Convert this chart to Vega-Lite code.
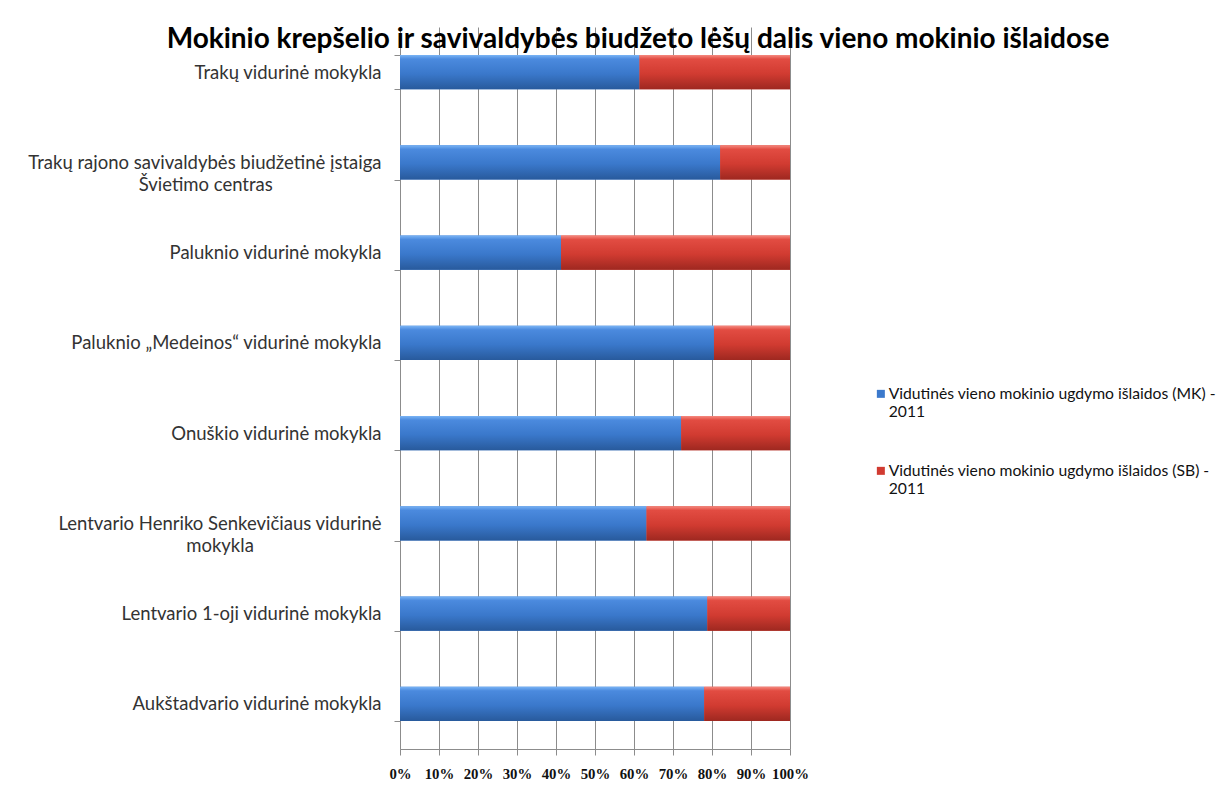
{
  "$schema": "https://vega.github.io/schema/vega-lite/v6.json",
  "autosize": {"type": "none"},
  "width": 390,
  "height": 722,
  "padding": {"left": 400, "top": 27, "right": 432, "bottom": 49},
  "background": "white",
  "title": {
    "text": "Mokinio krepšelio ir savivaldybės biudžeto lėšų dalis vieno mokinio išlaidose",
    "font": "Lato",
    "fontSize": 28,
    "fontWeight": "bold",
    "color": "#000000",
    "anchor": "middle",
    "orient": "top",
    "baseline": "alphabetic",
    "offset": -20,
    "dy": 38,
    "dx": 43
  },
  "config": {"view": {"stroke": null}, "font": "Lato"},
  "datasets": {
    "bars": [
      {"school": "Trakų vidurinė mokykla", "series": "Vidutinės vieno mokinio ugdymo išlaidos (MK) - 2011", "share": 61.4},
      {"school": "Trakų vidurinė mokykla", "series": "Vidutinės vieno mokinio ugdymo išlaidos (SB) - 2011", "share": 38.6},
      {"school": "Trakų rajono savivaldybės biudžetinė įstaiga Švietimo centras", "series": "Vidutinės vieno mokinio ugdymo išlaidos (MK) - 2011", "share": 82.1},
      {"school": "Trakų rajono savivaldybės biudžetinė įstaiga Švietimo centras", "series": "Vidutinės vieno mokinio ugdymo išlaidos (SB) - 2011", "share": 17.9},
      {"school": "Paluknio vidurinė mokykla", "series": "Vidutinės vieno mokinio ugdymo išlaidos (MK) - 2011", "share": 41.3},
      {"school": "Paluknio vidurinė mokykla", "series": "Vidutinės vieno mokinio ugdymo išlaidos (SB) - 2011", "share": 58.7},
      {"school": "Paluknio „Medeinos“ vidurinė mokykla", "series": "Vidutinės vieno mokinio ugdymo išlaidos (MK) - 2011", "share": 80.5},
      {"school": "Paluknio „Medeinos“ vidurinė mokykla", "series": "Vidutinės vieno mokinio ugdymo išlaidos (SB) - 2011", "share": 19.5},
      {"school": "Onuškio vidurinė mokykla", "series": "Vidutinės vieno mokinio ugdymo išlaidos (MK) - 2011", "share": 72.1},
      {"school": "Onuškio vidurinė mokykla", "series": "Vidutinės vieno mokinio ugdymo išlaidos (SB) - 2011", "share": 27.9},
      {"school": "Lentvario Henriko Senkevičiaus vidurinė mokykla", "series": "Vidutinės vieno mokinio ugdymo išlaidos (MK) - 2011", "share": 63.2},
      {"school": "Lentvario Henriko Senkevičiaus vidurinė mokykla", "series": "Vidutinės vieno mokinio ugdymo išlaidos (SB) - 2011", "share": 36.8},
      {"school": "Lentvario 1-oji vidurinė mokykla", "series": "Vidutinės vieno mokinio ugdymo išlaidos (MK) - 2011", "share": 78.8},
      {"school": "Lentvario 1-oji vidurinė mokykla", "series": "Vidutinės vieno mokinio ugdymo išlaidos (SB) - 2011", "share": 21.2},
      {"school": "Aukštadvario vidurinė mokykla", "series": "Vidutinės vieno mokinio ugdymo išlaidos (MK) - 2011", "share": 78.0},
      {"school": "Aukštadvario vidurinė mokykla", "series": "Vidutinės vieno mokinio ugdymo išlaidos (SB) - 2011", "share": 22.0}
    ]
  },
  "encoding": {
    "y": {
      "field": "school",
      "type": "nominal",
      "sort": null,
      "scale": {
        "domain": [
          "Trakų vidurinė mokykla",
          "Trakų rajono savivaldybės biudžetinė įstaiga Švietimo centras",
          "Paluknio vidurinė mokykla",
          "Paluknio „Medeinos“ vidurinė mokykla",
          "Onuškio vidurinė mokykla",
          "Lentvario Henriko Senkevičiaus vidurinė mokykla",
          "Lentvario 1-oji vidurinė mokykla",
          "Aukštadvario vidurinė mokykla"
        ],
        "paddingInner": 0.62,
        "paddingOuter": 0.31
      },
      "axis": {
        "title": null,
        "tickBand": "extent",
        "domainColor": "#8c8c8c",
        "tickColor": "#8c8c8c",
        "tickSize": 6,
        "labelFont": "Lato",
        "labelFontSize": 18.5,
        "labelColor": "#333333",
        "labelPadding": 13,
        "labelLimit": 0,
        "labelLineHeight": 22,
        "labelExpr": "datum.value == 'Trakų rajono savivaldybės biudžetinė įstaiga Švietimo centras' ? ['Trakų rajono savivaldybės biudžetinė įstaiga', 'Švietimo centras\u00a0\u00a0\u00a0\u00a0\u00a0\u00a0\u00a0\u00a0\u00a0\u00a0\u00a0\u00a0\u00a0\u00a0\u00a0\u00a0\u00a0\u00a0\u00a0\u00a0\u2800'] : datum.value == 'Lentvario Henriko Senkevičiaus vidurinė mokykla' ? ['Lentvario Henriko Senkevičiaus vidurinė', 'mokykla\u00a0\u00a0\u00a0\u00a0\u00a0\u00a0\u00a0\u00a0\u00a0\u00a0\u00a0\u00a0\u00a0\u00a0\u00a0\u00a0\u00a0\u00a0\u00a0\u00a0\u00a0\u00a0\u00a0\u00a0\u2800'] : datum.label"
      }
    },
    "x": {
      "field": "share",
      "type": "quantitative",
      "stack": "zero",
      "scale": {"domain": [0, 100], "nice": false},
      "axis": {
        "title": null,
        "values": [0, 10, 20, 30, 40, 50, 60, 70, 80, 90, 100],
        "labelExpr": "datum.value + '%'",
        "labelOverlap": false,
        "labelFlush": false,
        "grid": true,
        "gridColor": "#8c8c8c",
        "domainColor": "#8c8c8c",
        "tickColor": "#8c8c8c",
        "tickSize": 6,
        "labelFont": "Liberation Serif",
        "labelFontSize": 14.8,
        "labelFontWeight": "bold",
        "labelColor": "#111111",
        "labelPadding": 11
      }
    }
  },
  "layer": [
    {
      "data": {"name": "bars"},
      "mark": {"type": "bar"},
      "encoding": {
        "color": {
          "field": "series",
          "type": "nominal",
          "scale": {"range": ["#3b79cc", "#d13b31"]},
          "legend": {
            "title": null,
            "orient": "none",
            "legendX": 473,
            "legendY": 364,
            "direction": "vertical",
            "labelFont": "Lato",
            "labelFontSize": 15.7,
            "labelColor": "#111111",
            "labelLimit": 400,
            "labelOffset": 0,
            "labelBaseline": "alphabetic",
            "rowPadding": 42,
            "symbolType": "M-1,-2.25H1V-0.25H-1Z",
            "symbolSize": 64,
            "symbolStrokeWidth": 0,
            "labelExpr": "[replace(datum.label, ' 2011', ''), '2011']"
          }
        }
      }
    },
    {
      "data": {"name": "bars"},
      "mark": {"type": "bar"},
      "encoding": {
        "detail": {"field": "series", "type": "nominal"},
        "fill": {
          "condition": {
            "test": "indexof(datum.series, '(MK)') >= 0",
            "value": {
              "gradient": "linear", "x1": 0, "y1": 0, "x2": 0, "y2": 1,
              "stops": [
                {"offset": 0, "color": "#7ab4f5"},
                {"offset": 0.12, "color": "#4b8ade"},
                {"offset": 0.55, "color": "#3a78cb"},
                {"offset": 1, "color": "#285a9c"}
              ]
            }
          },
          "value": {
            "gradient": "linear", "x1": 0, "y1": 0, "x2": 0, "y2": 1,
            "stops": [
              {"offset": 0, "color": "#f58a80"},
              {"offset": 0.12, "color": "#e24c42"},
              {"offset": 0.55, "color": "#d13b31"},
              {"offset": 1, "color": "#9e2820"}
            ]
          }
        }
      }
    },
    {
      "data": {"values": [{"note": "Vidurinės mokyklos"}]},
      "mark": {
        "type": "text",
        "font": "Lato",
        "fontSize": 36,
        "fontWeight": "bold",
        "align": "left",
        "baseline": "alphabetic",
        "color": "#000000",
        "dy": -44
      },
      "encoding": {
        "text": {"field": "note"},
        "x": {"datum": 113.8},
        "y": {"datum": "Paluknio vidurinė mokykla"}
      }
    }
  ]
}
